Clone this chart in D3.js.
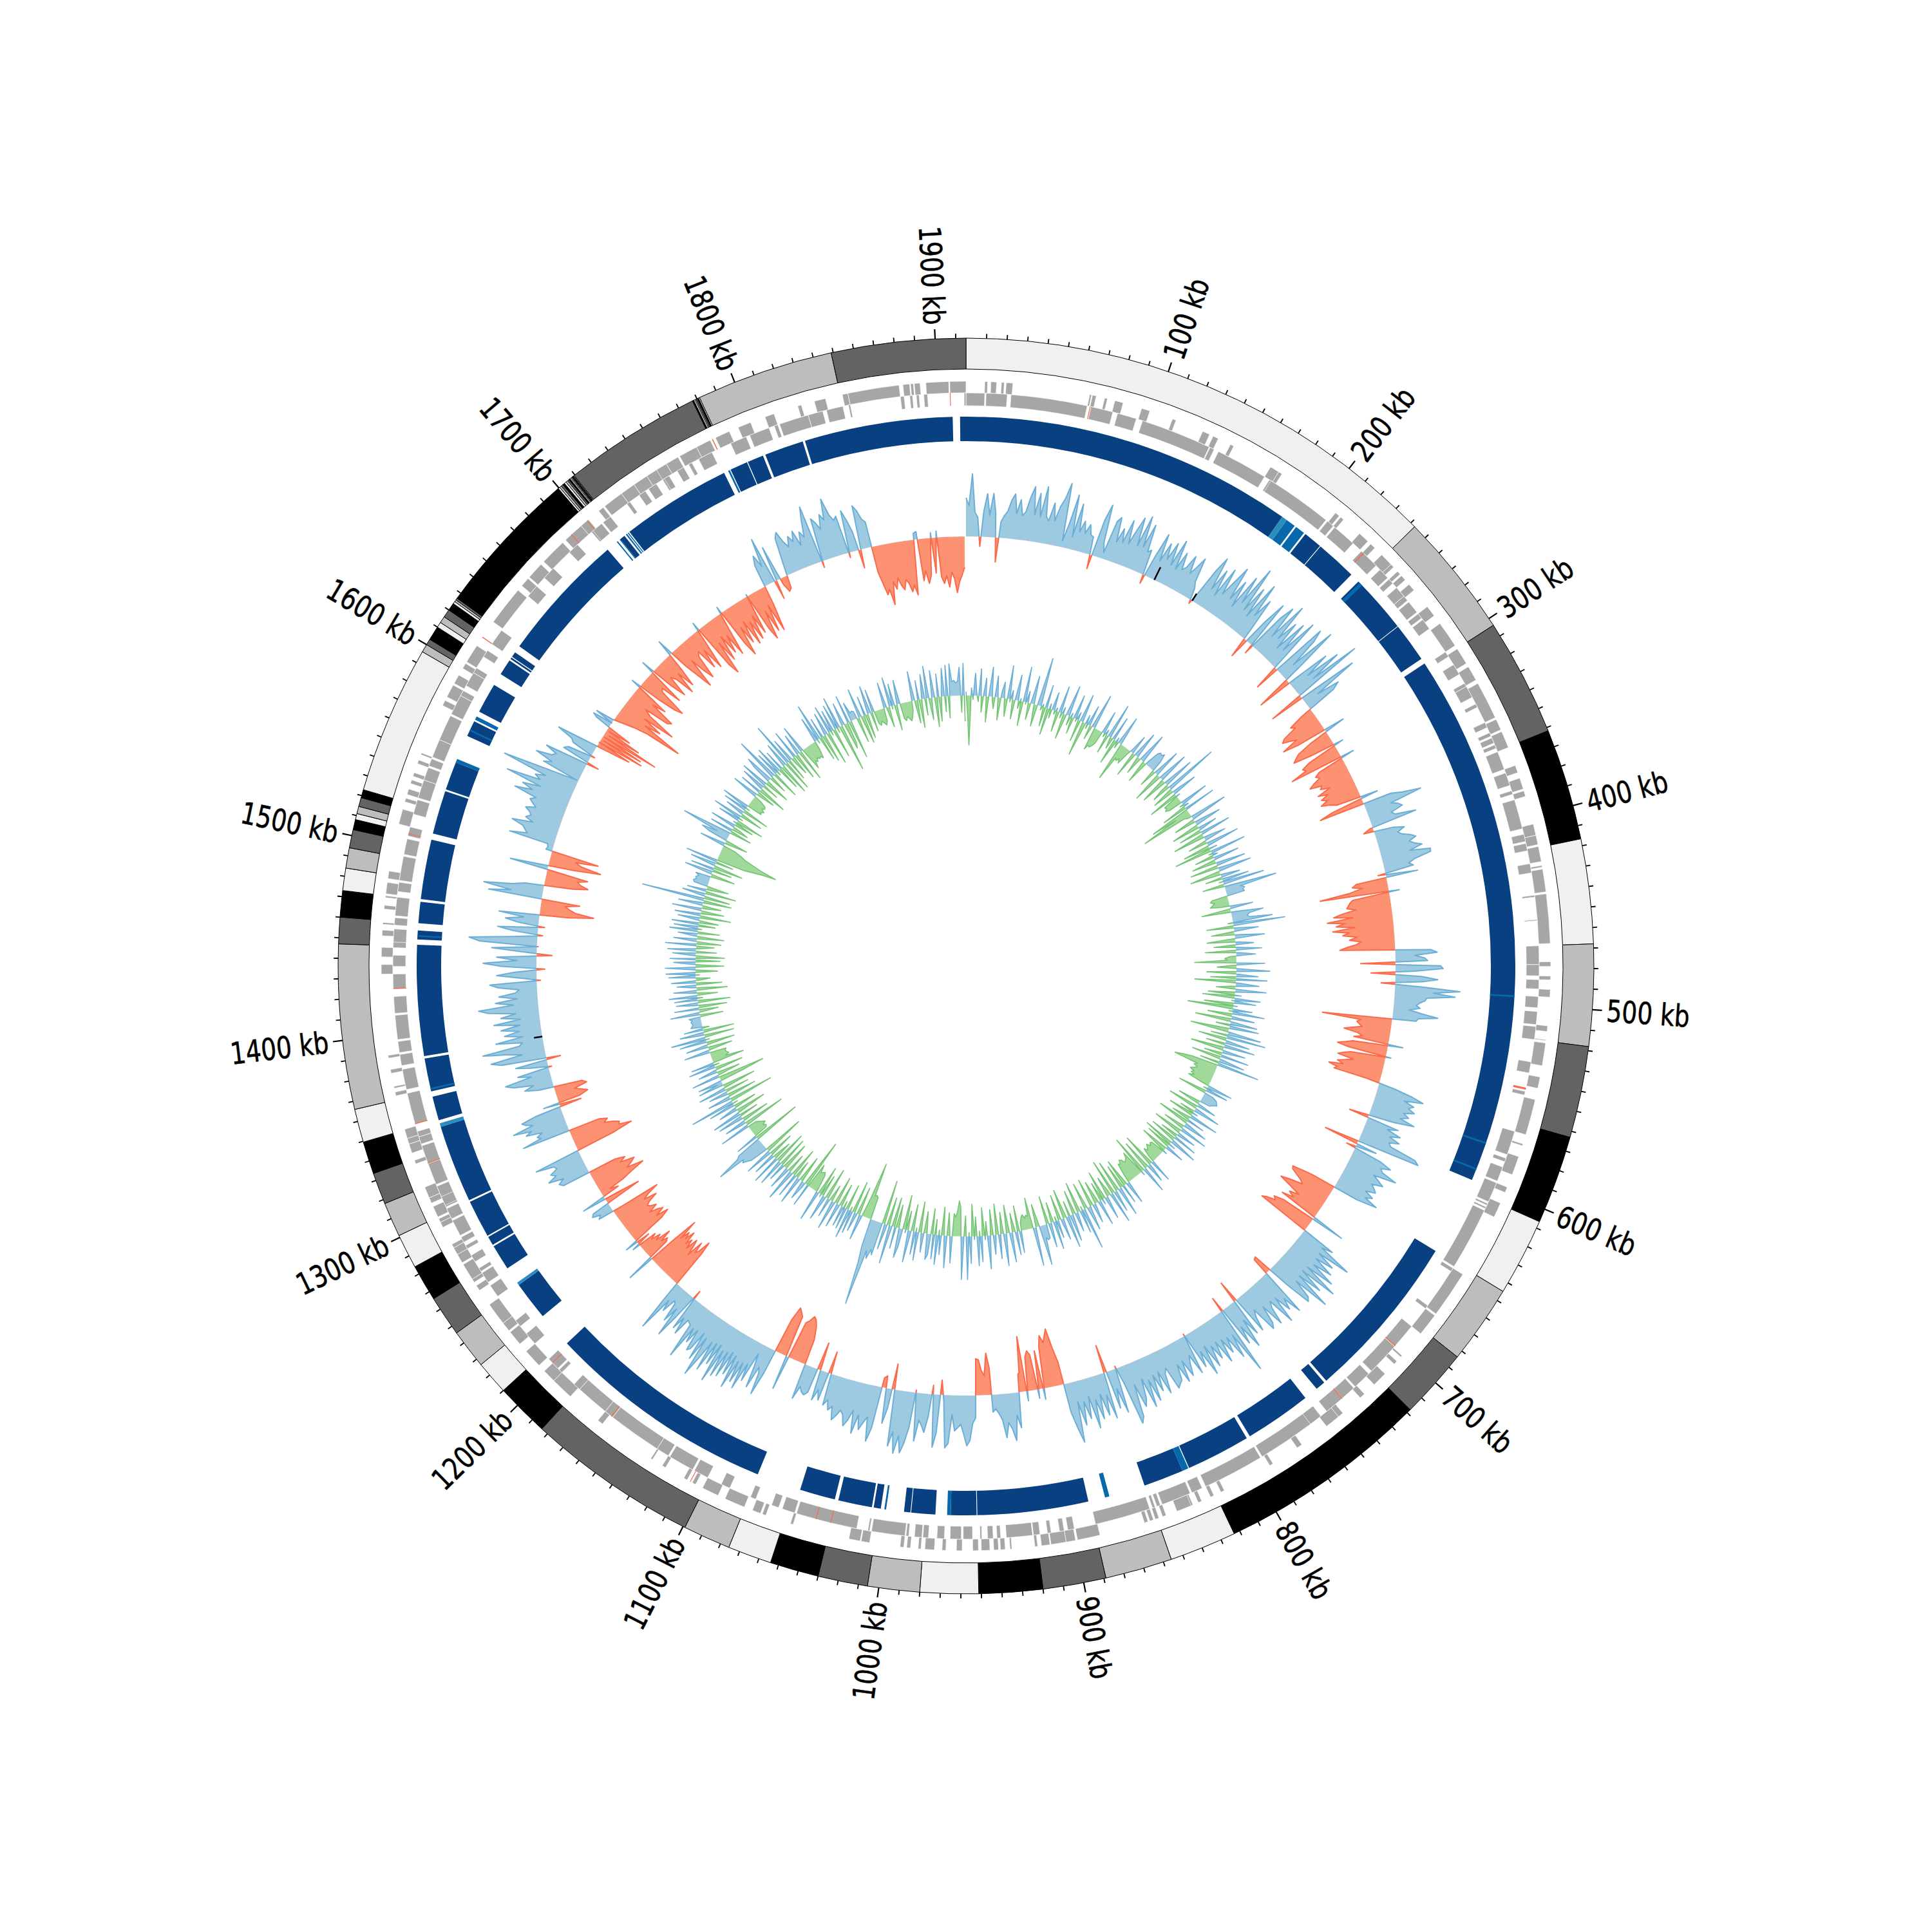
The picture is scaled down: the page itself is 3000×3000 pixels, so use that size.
<!DOCTYPE html>
<html><head><meta charset="utf-8"><style>html,body{margin:0;background:#fff}svg{display:block}</style>
<script src="https://cdn.jsdelivr.net/npm/d3@7/dist/d3.min.js"></script></head><body><script>
const genomeKb=1915;
const contigEnds=[242.6,303.9,361.7,416.6,468,518,563,606.6,644.8,683.6,718,823,856,889,920,951.3,980,1005.6,1030,1054,1075.6,1099,1183.6,1210,1226.6,1246,1266,1284,1301,1318,1333.6,1349.6,1366,1447,1460,1473,1484,1494,1503,1508,1511,1514.6,1519,1523,1596,1600,1603,1610,1612.7,1616,1620,1623.8,1625,1626,1627,1699.6,1700.5,1701.5,1702.5,1703.5,1704.5,1705.5,1706.3,1707,1707.6,1708.1,1708.5,1708.9,1709.2,1709.6,1777.6,1778.3,1779,1779.6,1780.2,1780.8,1781.4,1849,1915];
const contigColors=["#f0f0f0","#bdbdbd","#636363","#000000"];
const tickLabelsKb=[100,200,300,400,500,600,700,800,900,1000,1100,1200,1300,1400,1500,1600,1700,1800,1900];

const genesOuter=[[9.8,11.3],[13,16],[18.5,20],[21,24.5],[65,66],[66.5,68.5],[73,74.5],[78.5,83],[93,97.5],[110,112],[127,131],[133,136],[143,145],[167,172],[172,174],[208.5,211],[212,214],[225,231],[233,236],[241,248],[248,250],[253,255],[256,259],[262,266],[277,283],[288,302],[304,313],[315,323],[325,345],[346,352],[353,362],[372,376],[379,385],[386,389],[404,410],[410,415],[416,424],[426,427],[428,440],[441,467],[476.5,479],[484,486],[491,495],[510,513],[517.3,517.8],[519,531],[537,543],[549,568],[573,574],[580,590],[597,600],[606,614],[648,673],[674,686],[701,702],[705,707],[714,722],[729,732],[744,747],[747,755],[771,774],[789,791],[818,820],[824,826],[831,833],[836,838],[837,845],[851,853],[855,857],[858,860],[861,863],[887,899],[900,905],[905,913],[913.5,918],[920,921.5],[933.5,934.5],[937,939.5],[940.5,943],[945,949.5],[951,954],[959.5,962.5],[968,970],[974,979],[981,982.5],[986.5,988.5],[990,992],[1008,1012.5],[1013,1019],[1049,1050.5],[1064,1066],[1067,1071.5],[1076,1087],[1091,1100],[1104,1106],[1109,1111],[1122,1124],[1130,1131],[1162,1165],[1184,1196],[1196,1203],[1207,1217],[1222,1230],[1231,1236],[1236,1248],[1257,1260],[1262,1264],[1264,1273],[1274,1279],[1279,1283],[1283,1285],[1295,1298],[1298,1300],[1301,1307],[1309,1312],[1312,1318],[1331,1333],[1337,1342],[1342,1345],[1345,1350],[1368,1370],[1372,1373],[1380,1382],[1388,1389.5],[1432,1437],[1441,1446],[1452,1455],[1458,1459],[1466,1468],[1472,1473],[1474,1480],[1482,1486],[1511,1519],[1523,1525],[1527,1530],[1533,1535],[1537,1539],[1544,1546],[1549,1550],[1577,1580],[1582,1589],[1590,1595],[1599,1602],[1603,1613],[1628,1649],[1652,1657],[1658,1667],[1669,1683],[1685,1696],[1696,1701],[1708,1711],[1712,1723],[1723,1731],[1731,1739],[1739,1746],[1745,1751],[1751,1758],[1759,1769],[1769,1777],[1780,1788],[1793,1800],[1808,1813],[1826,1828],[1835,1841],[1850,1853],[1853,1880],[1882,1885.5],[1886,1887.5],[1888,1891],[1894,1906],[1906.5,1915]];
const genesInner=[[0,10],[10.7,22],[24,65],[67,79],[81.6,92],[95.4,133.6],[134,136.5],[139,167],[170,171.5],[171,207],[208,212],[213,226],[232,243],[246,252],[253,256],[259,265],[265,268],[269,276],[277,280],[281,287],[302,305],[310,316],[321.5,323.5],[323.5,330],[334,336],[345,348],[351,353],[354,357],[358,360],[362,372],[374,381],[384,386],[389,405],[408,412],[413,417],[424,429],[441,442],[454,454.6],[468,478],[478,484],[486,491],[495,501],[503,510],[511,518],[530,536],[544,545],[546,548],[568,581],[583,585],[588,596],[597,608],[609,610],[611,612],[613,647],[648,650],[672,674],[686,700],[700,718],[720,730],[731,741],[739,750],[754,765],[761,792],[793,826],[828,834],[835,851],[852,854],[855,856.5],[858,888],[899.5,903],[905,907.5],[912,914],[918,921.5],[922,936],[939,941],[943,946],[949,950],[954,959],[960,966],[969,973],[977.5,980.5],[981,985],[988,989.5],[990,1008],[1009,1010],[1016,1049],[1050,1057],[1059,1063],[1072,1075],[1087,1092],[1100,1108],[1109,1123],[1124,1131],[1131,1160],[1160,1165],[1165,1183],[1183,1187],[1196,1198],[1199,1206],[1217,1224],[1229,1233],[1249,1256],[1258,1264],[1265,1267],[1271,1275],[1279,1281],[1283,1286],[1287,1296],[1297,1303],[1304,1306],[1305,1311],[1310,1316],[1317,1329],[1329,1339],[1340,1344],[1344,1347],[1351,1368],[1370,1381],[1383,1389],[1390,1396],[1397,1410],[1411,1420],[1424,1432],[1436,1442],[1446,1451],[1449,1456],[1458,1462],[1463,1473],[1476,1481],[1482,1495],[1496,1504.5],[1506,1511],[1518,1526],[1527,1537],[1537,1544],[1545,1549],[1550,1560],[1560,1574],[1575,1586],[1586,1589],[1592,1600],[1600,1603],[1610,1614],[1618,1627],[1650,1657],[1663,1670],[1682,1688],[1698,1700],[1699,1705],[1706,1711],[1722,1724],[1730,1734],[1736,1741],[1745,1747],[1746,1749],[1754,1758],[1761,1763],[1767,1775],[1786,1795],[1797,1808],[1811,1813],[1814,1830],[1830,1838],[1840,1849],[1852,1853],[1880,1882],[1885,1886.5],[1888.5,1890],[1892.5,1894.5],[1914,1915]];
const rnaOuter=[[1107,1107.4],[1618,1618.5],[1689,1689.4],[1700,1700.4],[1778,1778.5]];
const rnaInner=[[66.4,66.8],[233.3,233.9],[544,545],[699.3,699.8],[739,739.5],[1030,1030.4],[1038,1038.4],[1160.5,1161],[1203,1203.4],[1329,1329.5],[1351,1351.4],[1424,1424.4],[1507,1507.4],[1906.4,1906.8]];

const blastDark=[[1911.7,1915],[0,187],[203,213.4],[213.8,237],[242.5,275.4],[275.8,297.9],[301,600.7],[645,739.5],[741,746.5],[754.5,792],[794,830],[834,856.6],[889,951.2],[951.6,966],[974.5,988],[988.4,992],[1005,1009],[1010,1029],[1031,1051],[1076,1205.4],[1225.6,1247.5],[1258.6,1273],[1274,1279],[1279.8,1301],[1302,1345.7],[1349.5,1363],[1366,1384.6],[1386,1448],[1451,1456],[1460,1472],[1473.5,1507],[1510.5,1535],[1536,1552],[1568,1577],[1583,1600],[1607,1616],[1617,1618],[1618.5,1621.5],[1625.6,1698.4],[1707.5,1710.5],[1714,1776],[1780,1790],[1790.5,1799.6],[1801,1823],[1824.3,1907.6]];
const blastMid=[[190,195.5],[196.5,202],[243.5,245.5],[495,496],[578.3,579.3],[593.7,594.7],[830.5,834],[877,879.5],[966,968],[1002,1003],[1367,1368],[1452.5,1453.3],[1552,1554],[1571,1572],[1578,1580],[1705,1705.7],[1707,1707.5],[1711.5,1712.3],[1712.8,1713.4],[1778.5,1779.5]];
const blastLight=[[187,190],[1247.5,1249],[1345.7,1347.7]];

const gc0=[[0,282],[60,48,97,38,30,-15,40,67,34,68,38,-38,25,35,42,60,70,40,62,38,44,68,85,42,76,40,88,42,36,65,38,62,75,100,10,38,85,20,73,30,48,30,45,30,28,-22,58,84,25,10,62,70,32,55,34,72,36,60,82,38,88,40,78,35,40,-14,35,73,30,62,38,67,32,76,30,60,34,40,62,35,48,66,28,18,-6,20,60,84,32,68,26,76,35,60,88,36,70,28,85,42,107,35,78,30,92,38,70,20,-32,40,78,-15,60,84,32,95,36,70,24,77,28,88,20,-40,90,72,24,98,28,-55,12,70,30,85,34,112,-55,16,95,24,60,47]];
const gc1=[[284,360],[-18,-42,-36,-60,-66,-55,-45,-72,-48,33,-30,-55,-62,-68,-40,15,-48,-62,-58,-85,21,-42,-50,-45,-58,-66,-48,-52,-38,-60,-45,-58,-50,-62,-48,-40,27,-50,-72]];
const gc2=[[361,415],[45,62,91,40,50,55,35,40,72,-5,-16,30,47,35,40,52,60,48,55,66,45,77,76,50,39,45,-12,50]];
const gc3=[[416,466],[-48,-55,-40,-60,-108,16,-58,-63,-66,-69,-55,-78,-91,-62,-102,-75,-89,-60,-95,-70,-80,-58,-70,-52,-60,-75,-86]];
const gc4=[[468,516],[55,65,30,45,50,-54,70,74,30,-38,40,66,42,-22,45,101,60,94,50,48,40,35,41,25,45,70,40,37]];
const gc5=[[518,561],[-109,-48,-54,-50,-45,-60,-72,-50,-42,-55,23,-55,-66,-78,-60,8,-55,-66,-74,-48,-60,-72,-62,-84,-70,-74]];
const gc6=[[562,643],[-20,25,55,74,45,62,55,66,50,60,48,72,40,-31,51,35,58,42,60,45,50,93,100,-55,33,-15,45,64,50,55,80,45,55,65,48,55,60,45,60,50,72,40]];
const gc7=[[644,680],[-40,-72,-70,-60,-50,-45,-65,-79,-60,-40,-55,-45,-63,53,-55,-70,-65,-78,-85]];
const gc8=[[681,887],[55,38,92,40,70,42,75,45,85,40,97,38,78,40,99,42,72,77,36,-30,-28,77,48,65,38,80,36,45,72,35,63,71,30,40,62,-35,60,32,77,38,65,-24,107,40,77,38,62,36,72,34,60,36,68,30,76,34,58,-3,63,30,42,60,32,65,34,58,62,67,30,38,68,30,60,32,72,36,78,30,60,72,34,85,94,28,-4,70,30,60,-44,73,34,65,30,68,36,80,28,62,34,70,32,95,72,45]];
const gc9=[[888,918],[-35,-60,-90,-80,-70,-82,-65,17,-60,14,-55,-62,-53,15,-86,-30]];
const gc10=[[919,939],[-28,55,35,74,55,45,68,40,30,22,27]];
const gc11=[[940,950],[-42,-65,-30,-38,-55,-57]];
const gc12=[[951,1017],[35,43,70,78,60,45,50,55,30,75,82,10,-23,60,82,-14,35,60,50,42,75,-4,55,80,96,70,98,65,88,-40,30,55,-19,-15]];
const gc13=[[1019,1074],[65,87,50,60,72,50,80,45,62,72,55,50,60,68,48,55,40,50,-35,45,30,48,-44,39,45,42,35,56]];
const gc14=[[1075,1097],[-40,-60,-70,-74,-65,-60,54,-66,-72,-77,-55]];
const gc15=[[1098,1182],[38,76,42,34,70,36,16,65,38,82,40,75,42,88,36,70,34,78,38,82,40,95,34,70,36,85,38,72,101,38,78,34,65,70,36,60,38,91,36,34,32,60,34,55,-14,38,77,30,55,26,22,45,28,84,30]];
const gc16=[[1184,1224],[-60,-80,-60,-55,-72,-45,-60,-70,-50,-65,-55,-75,-60,-70,-55,-87,-45,44,-35,-40,-30,-49,-25,-35,-20,-30,12,-22,20]];
const gc17=[[1226,1266],[-55,-69,-50,-65,-58,-45,-60,-52,-48,-55,-70,-50,-60,-79,-20,25,20,32,28,-58,-20,38,-28,-15]];
const gc18=[[1267,1283],[-40,-60,-81,-55,-65,-72,-50,-60,-45]];
const gc19=[[1284,1300],[45,50,40,63,48,55,42,45,73]];
const gc20=[[1302,1316],[-60,-94,-75,-77,-68,-55,-62,-50]];
const gc21=[[1317,1337],[76,45,50,40,65,55,83,50,60,65,40,-35,25]];
const gc22=[[1338,1348],[-35,-49,-40,-30,-51,-45]];
const gc23=[[1350,1472],[24,45,30,60,72,30,50,-5,28,50,-22,70,86,36,60,96,38,32,73,30,58,34,62,32,72,30,60,36,78,93,38,66,32,60,34,28,60,73,-6,26,62,34,-13,55,83,30,62,-24,22,70,-2,90,106,40,-8,38,63,-10,32,52,24,63]];
const gc24=[[1473,1483],[-45,-84,-55,-45,-38,-60]];
const gc25=[[1485,1493],[84,50,93,50,30]];
const gc26=[[1495,1523],[-45,-68,-55,-50,-65,-10,60,-40,-82,-50,-40,-75,10,8,10]];
const gc27=[[1524,1598],[72,45,50,55,74,42,55,48,52,60,45,52,58,50,87,60,78,50,108,55,65,50,122,60,3,62,50,79,55,50,69,-19,44,38,-6,35,40,66]];
const gc28=[[1602,1622],[-55,0,-74,-5,-70,-3,-93,-8,-60,-4,-40,-5,25,32,0,30,2]];
const gc29=[[1626,1766],[-32,-55,-111,-45,-70,-38,-88,-42,-30,-70,-75,-34,-55,15,-36,-65,-77,-32,-28,-60,21,-36,-60,-26,-34,-65,-30,-58,-28,26,-30,-55,-77,-30,-55,-70,-32,-26,-60,-30,-66,-32,13,-72,-89,-36,-70,-30,-62,-34,-70,-30,11,-60,-82,-36,-65,-30,-72,-36,-68,-30,-62,3,-60,-79,-34,-70,-28,-73,-30]];
const gc30=[[1767,1847],[35,50,30,74,-30,55,-10,-24,-20,20,60,68,50,40,55,45,60,35,55,45,70,91,-10,68,60,48,70,60,92,65,55,60,-8,66,50,30,-29,69,60,45,40]];
const gc31=[[1848,1914],[-40,-60,-78,-70,-95,-60,-72,-55,-68,-75,-60,-66,-80,-70,-86,10,12,-65,-50,-70,-58,8,-55,10,-62,-72,-60,-78,-55,-65,-87,-70,-60,-48]];
const gcMarks=[[138.3,0,22],[169,0,13],[1386,0,13]];

const skew0=[6,-30,-77,12,-6,35,4,-9,42,-25,5,28,-40,7,46,-5,-18,33,3,-35,10,25,-8,-28,52,-4,14,-30,6,40,-12,4,-38,55,-3,18,-26,5,44,-8,-34,12,76,-6,4,-30,36,-42,8,-14];
const skew100=[28,-6,5,-32,42,-8,10,-40,4,48,-14,6,-26,38,-4,12,-34,44,3,-54,14,-7,32,-22,6,55,-36,-28,-30,-26,-20,36,-5,8,-30,55,-4,-18,38,-40,6,-10,46,3,-61,-22,-25,-20,-26,-8];
const skew200=[5,30,-40,8,42,-6,-28,12,48,-4,-36,6,24,28,26,30,18,-28,4,44,-8,-48,10,49,-6,-42,5,50,-14,-30,85,-5,-35,12,40,-48,6,-26,-24,-28,-22,45,-6,8,-40,50,-64,-24,-83,-12];
const skew300=[-6,59,4,-34,10,42,-8,-44,30,5,-36,48,-6,-50,8,35,-4,-30,52,6,-42,12,-59,56,-5,8,-30,40,-4,-38,12,46,-44,6,52,-8,-48,5,30,-26,42,-6,65,-34,4,82,24,30,26,28];
const skew400=[-25,-28,-22,-26,-30,-14,36,-6,-46,10,50,28,24,26,62,-8,81,-42,6,38,-5,-36,10,46,-6,-44,8,28,-34,4,40,-48,6,30,-10,-18,-14,-65,44,-6,-30,8,52,-46,4,34,-40,48,-64,6];
const skew500=[36,-8,-30,48,5,-42,10,-50,40,-4,34,-46,6,-71,30,-6,50,-38,4,36,-56,8,42,-22,46,-5,-60,6,52,-26,61,-44,4,38,-30,48,-7,-52,36,5,-28,44,-46,6,40,-30,66,-42,-58,-69];
const skew600=[-30,-35,-28,-32,-38,-30,-34,-28,-36,-12,40,-6,35,-45,14,22,24,26,20,16,-36,4,30,-48,6,42,-24,8,-40,46,-5,-30,28,-50,6,38,-4,-34,44,-8,-46,30,5,-28,38,-42,4,44,-48,10];
const skew700=[-40,30,-6,-44,6,-22,-24,-20,-26,-22,-18,-24,-10,36,-54,8,30,-48,-4,42,-62,6,-40,-32,-30,-28,-34,-36,-30,-32,-14,36,-5,-44,30,-38,6,46,-50,4,34,-56,49,-8,-32,6,36,-46,8,-30];
const skew800=[40,-6,-36,8,30,-44,5,38,-4,-42,65,-6,36,-48,4,30,-38,8,42,-24,50,-5,-46,34,6,-40,28,-7,44,-32,4,38,-44,22,24,20,62,-5,-36,8,60,-48,-20,-22,-18,-24,-20,-12,34,-40];
const skew900=[36,-6,-30,46,5,-44,8,50,-34,-4,38,-48,6,30,-40,4,52,-22,6,-44,40,-8,46,-30,5,-50,42,-6,67,-32,4,67,-45,-55,-38,-30,-35,42,-6,-36,50,5,-44,30,-8,46,-24,38,-40,32];
const skew1000=[40,-8,-34,30,4,-48,44,-6,36,-42,8,50,-30,5,-54,28,46,-6,-36,34,-46,4,60,-44,8,40,-69,52,44,60,48,136,70,45,-35,-38,-36,-88,-30,6,40,-44,5,30,-50,36,-6,46,-40,34];
const skew1100=[-10,32,-36,6,38,-44,5,46,-26,-4,30,-50,8,40,-34,4,-46,48,-6,-28,-32,-30,-28,-40,36,-77,8,30,-6,-42,44,4,-28,38,-46,6,50,-30,5,36,-44,-8,28,-48,42,4,-52,46,-30,-6];
const skew1200=[36,-40,6,44,-65,4,30,35,42,38,82,45,40,-76,36,-22,-24,-20,-26,-22,-18,-14,48,-66,6,34,-44,4,40,-30,46,-6,-48,30,5,-36,42,-8,70,-70,6,36,-46,4,30,-38,44,-6,-52,40];
const skew1300=[8,38,-42,-73,44,-6,-36,30,4,-44,42,-8,36,-50,-22,-28,-25,-24,-26,40,-6,-38,34,4,-44,42,-6,54,-46,8,38,-48,30,-10,18,15,14,16,14,18,-36,46,-5,-30,38,-44,6,34,-50,36];
const skew1400=[-8,44,-32,5,36,-48,6,30,-40,38,-4,-22,42,-6,46,-34,4,47,-44,6,34,-38,40,-45,5,36,-32,44,-6,-28,48,-38,4,36,-42,6,30,-34,44,-6,38,-26,42,-30,5,34,-48,40,-6,-36];
const skew1500=[46,-8,-30,38,4,-44,98,-40,6,36,-48,30,-8,-34,22,24,20,22,18,24,-38,6,44,-30,36,-46,4,40,-28,50,-45,-60,-75,-95,-70,-55,-40,-32,-20,40,-6,-36,30,44,20,79,18,-34,36,-26];
const skew1600=[-10,40,-30,5,-44,34,-6,46,-36,4,30,-42,38,-6,44,-24,-22,-26,-20,-24,-22,-12,42,-6,-30,34,-46,6,38,-26,44,-8,-40,30,46,-28,6,70,-44,38,-6,44,-36,32,-50,5,40,-48,70,-34];
const skew1700=[38,-6,-30,46,-42,5,34,-50,44,-6,-36,-25,-28,-22,-26,-24,-28,-14,40,-6,59,-38,32,-44,6,36,-52,44,-6,34,-46,40,-8,50,-74,6,36,-42,-34,44,-60,30,12,14,12,-40,46,-6,-44,30];
const skew1800=[-38,6,44,-30,36,-20,-24,-18,-22,-26,-20,40,-6,-32,46,-5,34,-40,6,38,-24,-28,-22,-26,-30,-24,-14,46,-6,-36,30,-44,5,38,-26,50,-6,-34,42,4,-46,36,-38,6,44,-24,48,-34,50,22,24,20,22,44,-26,50,-40];

const size=3000,cx=1500,cy=1500;
const svg=d3.select("body").append("svg").attr("width",size).attr("height",size).attr("viewBox",`0 0 ${size} ${size}`);
const root=svg.append("g").attr("transform",`translate(${cx},${cy})`);
const A=d3.scaleLinear().domain([0,genomeKb]).range([0,2*Math.PI]);
const arc=d3.arc();
const sector=(s,e,r0,r1)=>arc({startAngle:A(s),endAngle:A(e),innerRadius:r0,outerRadius:r1});

const defs=svg.append("defs");
function clip(id,r0,r1){defs.append("clipPath").attr("id",id).append("path").attr("d",arc({startAngle:0,endAngle:2*Math.PI,innerRadius:r0,outerRadius:r1}));}
const gcBase=667,skewBase=420;
clip("gcUp",gcBase,900);clip("gcDown",400,gcBase);clip("skUp",skewBase,620);clip("skDown",200,skewBase);

const gcRegions=[gc0,gc1,gc2,gc3,gc4,gc5,gc6,gc7,gc8,gc9,gc10,gc11,gc12,gc13,gc14,gc15,gc16,gc17,gc18,gc19,gc20,gc21,gc22,gc23,gc24,gc25,gc26,gc27,gc28,gc29,gc30,gc31];
const gcPts=[];
gcRegions.forEach(([[s,e],v])=>{const x=d3.scaleLinear().domain([0,v.length-1]).range([s,e]);v.forEach((d,i)=>gcPts.push([x(i),d]));});
const skewArrays=[skew0,skew100,skew200,skew300,skew400,skew500,skew600,skew700,skew800,skew900,skew1000,skew1100,skew1200,skew1300,skew1400,skew1500,skew1600,skew1700,skew1800];
const skPts=[];
skewArrays.forEach((v,k)=>{const s=k*100,e=k==18?genomeKb-1:s+98;const x=d3.scaleLinear().domain([0,v.length-1]).range([s,e]);v.forEach((d,i)=>skPts.push([x(i),d]));});

function signed(pts,base,upId,downId,upFill,upLine,downFill,downLine,lw){
  const R=d3.scaleLinear().domain([0,100]).range([base,base+100]);
  const area=d3.areaRadial().angle(d=>A(d[0])).innerRadius(R(0)).outerRadius(d=>R(d[1]));
  const line=d3.lineRadial().angle(d=>A(d[0])).radius(d=>R(d[1]));
  [[upId,upFill,upLine],[downId,downFill,downLine]].forEach(([id,f,l])=>{
    const g=root.append("g").attr("clip-path",`url(#${id})`);
    g.append("path").attr("d",area(pts)).attr("fill",f);
    g.append("path").attr("d",line(pts)).attr("fill","none").attr("stroke",l).attr("stroke-width",lw).attr("stroke-linejoin","round");
  });
}
signed(skPts,skewBase,"skUp","skDown","#9ecae1","#6baed6","#a1d99b","#74c476",1.6);
signed(gcPts,gcBase,"gcUp","gcDown","#9ecae1","#6baed6","#fc9272","#fb6a4a",2);
gcMarks.forEach(([k,a,b])=>{
  root.append("path").attr("d",d3.lineRadial()([[A(k),gcBase+a],[A(k),gcBase+b]])).attr("stroke","#000").attr("stroke-width",2.5).attr("fill","none");
});

[[blastDark,"#084081"],[blastMid,"#0868ac"],[blastLight,"#2b8cbe"]].forEach(([iv,c])=>{
  root.append("g").selectAll("path").data(iv).join("path").attr("d",d=>sector(d[0],d[1],815,853)).attr("fill",c);
});

[[genesOuter,890,908,"#a6a6a6"],[genesInner,870,890,"#a6a6a6"]].forEach(([iv,r0,r1,c])=>{
  root.append("g").selectAll("path").data(iv).join("path").attr("d",d=>sector(d[0],d[1],r0,r1)).attr("fill",c).attr("stroke","#fff").attr("stroke-width",0.7);
});
[[rnaOuter,890,908,"#fb6a4a"],[rnaInner,870,890,"#fb6a4a"]].forEach(([iv,r0,r1,c])=>{
  root.append("g").selectAll("path").data(iv).join("path").attr("d",d=>sector(d[0],d[1],r0,r1)).attr("fill",c);
});

const contigs=contigEnds.map((e,i)=>[i?contigEnds[i-1]:0,e,contigColors[i%4]]);
root.append("g").selectAll("path").data(contigs).join("path")
  .attr("d",d=>sector(d[0],d[1],927,975)).attr("fill",d=>d[2]).attr("stroke","#000").attr("stroke-width",1);

const minor=d3.range(10,genomeKb,10).filter(k=>k%100);
root.append("g").selectAll("line").data(minor).join("line")
  .attr("transform",d=>`rotate(${A(d)*180/Math.PI})`).attr("y1",-975).attr("y2",-982).attr("stroke","#000").attr("stroke-width",1.8);
root.append("g").selectAll("line").data(tickLabelsKb).join("line")
  .attr("transform",d=>`rotate(${A(d)*180/Math.PI})`).attr("y1",-975).attr("y2",-990).attr("stroke","#000").attr("stroke-width",2.2);
root.append("g").selectAll("text").data(tickLabelsKb).join("text")
  .attr("transform",d=>{const a=A(d)*180/Math.PI;return `rotate(${a}) translate(0,-997) rotate(${a<180?-90:90}) scale(0.8,1)`;})
  .attr("text-anchor",d=>A(d)<Math.PI?"start":"end").attr("dominant-baseline","central")
  .attr("font-family","'DejaVu Sans',sans-serif").attr("stroke","#000").attr("stroke-width",0.6)
  .attr("font-size",47).attr("fill","#000").text(d=>`${d} kb`);
</script></body></html>
